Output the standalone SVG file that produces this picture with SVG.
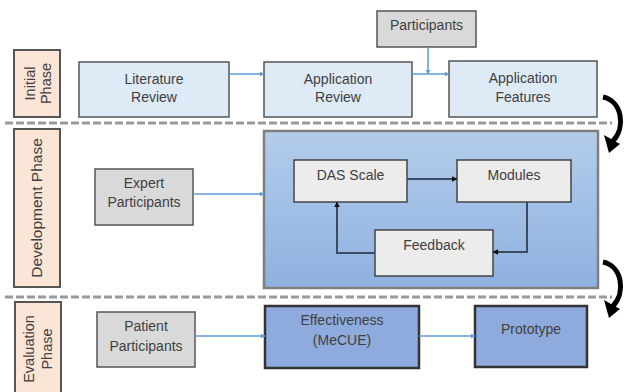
<svg xmlns="http://www.w3.org/2000/svg" width="626" height="392" viewBox="0 0 626 392">
<style>
  text { font-family: "Liberation Sans", Arial, sans-serif; font-size: 14px; fill: #404040; text-anchor: middle; }
  .pl { font-size: 14.5px; }
  .phase { fill: #fbe5d6; stroke: #555; stroke-width: 2; }
  .light { fill: #deebf7; stroke: #555; stroke-width: 1.5; }
  .gray { fill: #d9d9d9; stroke: #555; stroke-width: 1.5; }
  .inner { fill: #ececec; stroke: #444; stroke-width: 1.5; }
  .dark { fill: #8faadc; stroke: #333; stroke-width: 2.5; }
  .sep { stroke: #999; stroke-width: 3; stroke-dasharray: 8 3; fill: none; }
  .blue { stroke: #5b9bd5; stroke-width: 1.5; fill: none; marker-end: url(#ab); }
  .navy { stroke: #3a4a63; stroke-width: 2; fill: none; marker-end: url(#ak); }
  .curve { stroke: #000; stroke-width: 5; fill: none; }
</style>
<defs>
  <marker id="ab" viewBox="0 0 10 10" refX="9" refY="5" markerWidth="5" markerHeight="5" orient="auto" markerUnits="userSpaceOnUse">
    <path d="M0,0 L10,5 L0,10 z" fill="#5b9bd5"/>
  </marker>
  <marker id="ak" viewBox="0 0 10 10" refX="9" refY="5" markerWidth="6" markerHeight="6" orient="auto" markerUnits="userSpaceOnUse">
    <path d="M0,0 L10,5 L0,10 z" fill="#111"/>
  </marker>
  <linearGradient id="cg" x1="0" y1="0" x2="0" y2="1">
    <stop offset="0" stop-color="#b3cceb"/>
    <stop offset="1" stop-color="#8fb1e0"/>
  </linearGradient>
</defs>

<rect width="626" height="392" fill="#fff"/>

<!-- separators -->
<line class="sep" x1="5" y1="123" x2="612" y2="123"/>
<line class="sep" x1="5" y1="297" x2="612" y2="297"/>

<!-- phase labels -->
<g id="initial-phase">
  <rect class="phase" x="14" y="50" width="46" height="67"/>
  <text class="pl" transform="translate(35,83.5) rotate(-90)">Initial</text>
  <text class="pl" transform="translate(51,83.5) rotate(-90)">Phase</text>
</g>
<g id="development-phase">
  <rect class="phase" x="14" y="129" width="46" height="158"/>
  <text class="pl" transform="translate(42,208) rotate(-90)" style="font-size:15.5px">Development Phase</text>
</g>
<g id="evaluation-phase">
  <rect class="phase" x="15" y="302" width="46" height="95"/>
  <text class="pl" transform="translate(34,349) rotate(-90)">Evaluation</text>
  <text class="pl" transform="translate(52,349) rotate(-90)">Phase</text>
</g>

<!-- initial phase nodes -->
<g id="literature-review">
  <rect class="light" x="79" y="62" width="150" height="55"/>
  <text x="154" y="84">Literature</text>
  <text x="154" y="102">Review</text>
</g>
<g id="application-review">
  <rect class="light" x="264" y="62" width="148" height="55"/>
  <text x="338" y="84">Application</text>
  <text x="338" y="102">Review</text>
</g>
<g id="application-features">
  <rect class="light" x="449" y="61" width="148" height="56"/>
  <text x="523" y="83">Application</text>
  <text x="523" y="102">Features</text>
</g>
<g id="participants">
  <rect class="gray" x="377" y="11" width="99" height="36"/>
  <text x="426.5" y="30">Participants</text>
</g>

<!-- development phase nodes -->
<g id="expert-participants">
  <rect class="gray" x="95" y="169" width="98" height="56"/>
  <text x="144" y="188">Expert</text>
  <text x="144" y="207">Participants</text>
</g>
<g id="development-container">
  <rect x="264" y="131" width="334" height="157" fill="url(#cg)" stroke="#7f7f7f" stroke-width="2.5"/>
</g>
<g id="das-scale">
  <rect class="inner" x="294" y="160" width="113" height="42"/>
  <text x="350.5" y="180">DAS Scale</text>
</g>
<g id="modules">
  <rect class="inner" x="457" y="160" width="114" height="42"/>
  <text x="514" y="180">Modules</text>
</g>
<g id="feedback">
  <rect class="inner" x="375" y="230" width="118" height="46"/>
  <text x="434" y="250">Feedback</text>
</g>

<!-- evaluation phase nodes -->
<g id="patient-participants">
  <rect class="gray" x="97" y="312" width="98" height="55"/>
  <text x="146" y="331">Patient</text>
  <text x="146" y="351">Participants</text>
</g>
<g id="effectiveness">
  <rect class="dark" x="265" y="306" width="154" height="62"/>
  <text x="342" y="325">Effectiveness</text>
  <text x="342" y="345">(MeCUE)</text>
</g>
<g id="prototype">
  <rect class="dark" x="475" y="306" width="112" height="61"/>
  <text x="531" y="334">Prototype</text>
</g>

<!-- connectors -->
<g id="connectors">
  <line class="blue" x1="229" y1="74" x2="264" y2="74"/>
  <line class="blue" x1="412" y1="74" x2="449" y2="74"/>
  <line class="blue" x1="428" y1="47" x2="428" y2="74"/>
  <line class="blue" x1="193" y1="194" x2="264" y2="194"/>
  <line class="blue" x1="195" y1="336" x2="265" y2="336"/>
  <line class="blue" x1="419" y1="336" x2="475" y2="336"/>
  <line class="navy" x1="407" y1="179" x2="457" y2="179"/>
  <polyline class="navy" points="527,202 527,252 493,252"/>
  <polyline class="navy" points="375,253 337,253 337,202"/>
  <path class="curve" d="M603,97 C622,101 626,127 613,141"/>
  <path d="M604,135 L620,144 L609,153 Z" fill="#000"/>
  <path class="curve" d="M603,262 C622,266 626,292 613,306"/>
  <path d="M604,300 L620,309 L609,318 Z" fill="#000"/>
</g>
</svg>
